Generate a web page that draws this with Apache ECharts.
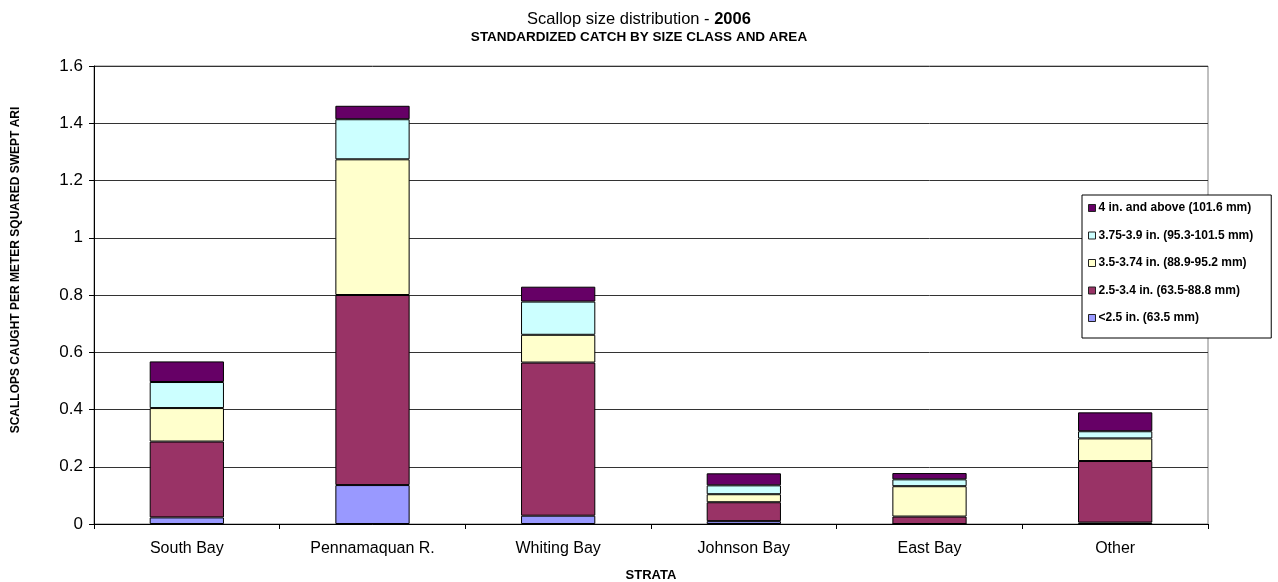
<!DOCTYPE html>
<html>
<head>
    <meta charset="utf-8">
    <title>Scallop size distribution - 2006</title>
    <script src="https://cdn.jsdelivr.net/npm/echarts@6/dist/echarts.min.js"></script>
    <style>
        html, body { margin: 0; padding: 0; background: #fff; }
        #chart { width: 1278px; height: 582px; }
    </style>
</head>
<body>
<div id="chart"></div>
<script>
    // categories (strata)
    const strata = ['South Bay', 'Pennamaquan R.', 'Whiting Bay', 'Johnson Bay', 'East Bay', 'Other'];
    // size classes, bottom of the stack first
    const sizeClasses = [
        '<2.5 in. (63.5 mm)',
        '2.5-3.4 in. (63.5-88.8 mm)',
        '3.5-3.74 in. (88.9-95.2 mm)',
        '3.75-3.9 in. (95.3-101.5 mm)',
        '4 in. and above (101.6 mm)'
    ];
    const sizeColors = ['#9999FF', '#993366', '#FFFFCC', '#CCFFFF', '#660066'];
    // scallops caught per m2 swept
    const under25   = [0.023, 0.136, 0.029, 0.010, 0.000, 0.005];
    const from25    = [0.265, 0.664, 0.535, 0.066, 0.026, 0.215];
    const from35    = [0.117, 0.474, 0.097, 0.028, 0.106, 0.079];
    const from375   = [0.091, 0.140, 0.116, 0.031, 0.024, 0.025];
    const over4     = [0.072, 0.047, 0.052, 0.042, 0.022, 0.066];
    const seriesValues = [under25, from25, from35, from375, over4];

    const font = 'Arial, "Liberation Sans", sans-serif';

    const chart = echarts.init(document.getElementById('chart'));
    chart.setOption({
        animation: false,
        textStyle: { fontFamily: font, color: '#000' },
        title: {
            text: 'Scallop size distribution - {b|2006}',
            subtext: 'STANDARDIZED CATCH BY SIZE CLASS AND AREA',
            left: 'center',
            top: 6,
            itemGap: 2,
            textStyle: {
                fontFamily: font, fontSize: 16.5, fontWeight: 'normal', color: '#000',
                rich: { b: { fontFamily: font, fontSize: 16.5, fontWeight: 'bold', color: '#000' } }
            },
            subtextStyle: { fontFamily: font, fontSize: 13.5, fontWeight: 'bold', color: '#000' }
        },
        legend: {
            orient: 'vertical',
            left: 1082,
            top: 195,
            data: sizeClasses.slice().reverse(),
            icon: 'rect',
            itemWidth: 7,
            itemHeight: 7,
            itemGap: 15.5,
            padding: [7, 18, 14, 6],
            borderColor: '#000',
            borderWidth: 1,
            backgroundColor: '#fff',
            itemStyle: { borderColor: '#222', borderWidth: 1 },
            textStyle: { fontFamily: font, fontSize: 12, fontWeight: 'bold', color: '#000', padding: [0, 0, 0, -2] }
        },
        grid: {
            left: 94, right: 70, top: 66, bottom: 58,
            outerBoundsMode: 'none',
            containLabel: false,
            show: true, borderColor: '#808080', borderWidth: 1, backgroundColor: '#fff'
        },
        xAxis: {
            type: 'category',
            data: strata,
            name: 'STRATA',
            nameLocation: 'middle',
            nameGap: 45,
            nameTextStyle: { fontFamily: font, fontSize: 13, fontWeight: 'bold', color: '#000' },
            axisLine: { lineStyle: { color: '#000', width: 1 } },
            axisTick: { show: true, length: 5, lineStyle: { color: '#000' } },
            axisLabel: { fontFamily: font, fontSize: 16, color: '#000', margin: 17 }
        },
        yAxis: {
            type: 'value',
            min: 0,
            max: 1.6,
            interval: 0.2,
            name: 'SCALLOPS CAUGHT PER METER SQUARED SWEPT ARI',
            nameLocation: 'middle',
            nameGap: 72,
            nameTextStyle: { fontFamily: font, fontSize: 12, fontWeight: 'bold', color: '#000', padding: [0, 0, 0, 50] },
            axisLine: { show: true, lineStyle: { color: '#000', width: 1 } },
            axisTick: { show: true, length: 5, lineStyle: { color: '#000' } },
            axisLabel: {
                fontFamily: font, fontSize: 17, color: '#000', margin: 11,
                formatter: v => String(+v.toFixed(1))
            },
            splitLine: { lineStyle: { color: '#333', width: 1 } }
        },
        series: sizeClasses.map((name, i) => ({
            name: name,
            type: 'bar',
            stack: 'total',
            barWidth: '40%',
            data: seriesValues[i],
            itemStyle: { color: sizeColors[i], borderColor: '#000', borderWidth: 1 }
        }))
    });
</script>
</body>
</html>
